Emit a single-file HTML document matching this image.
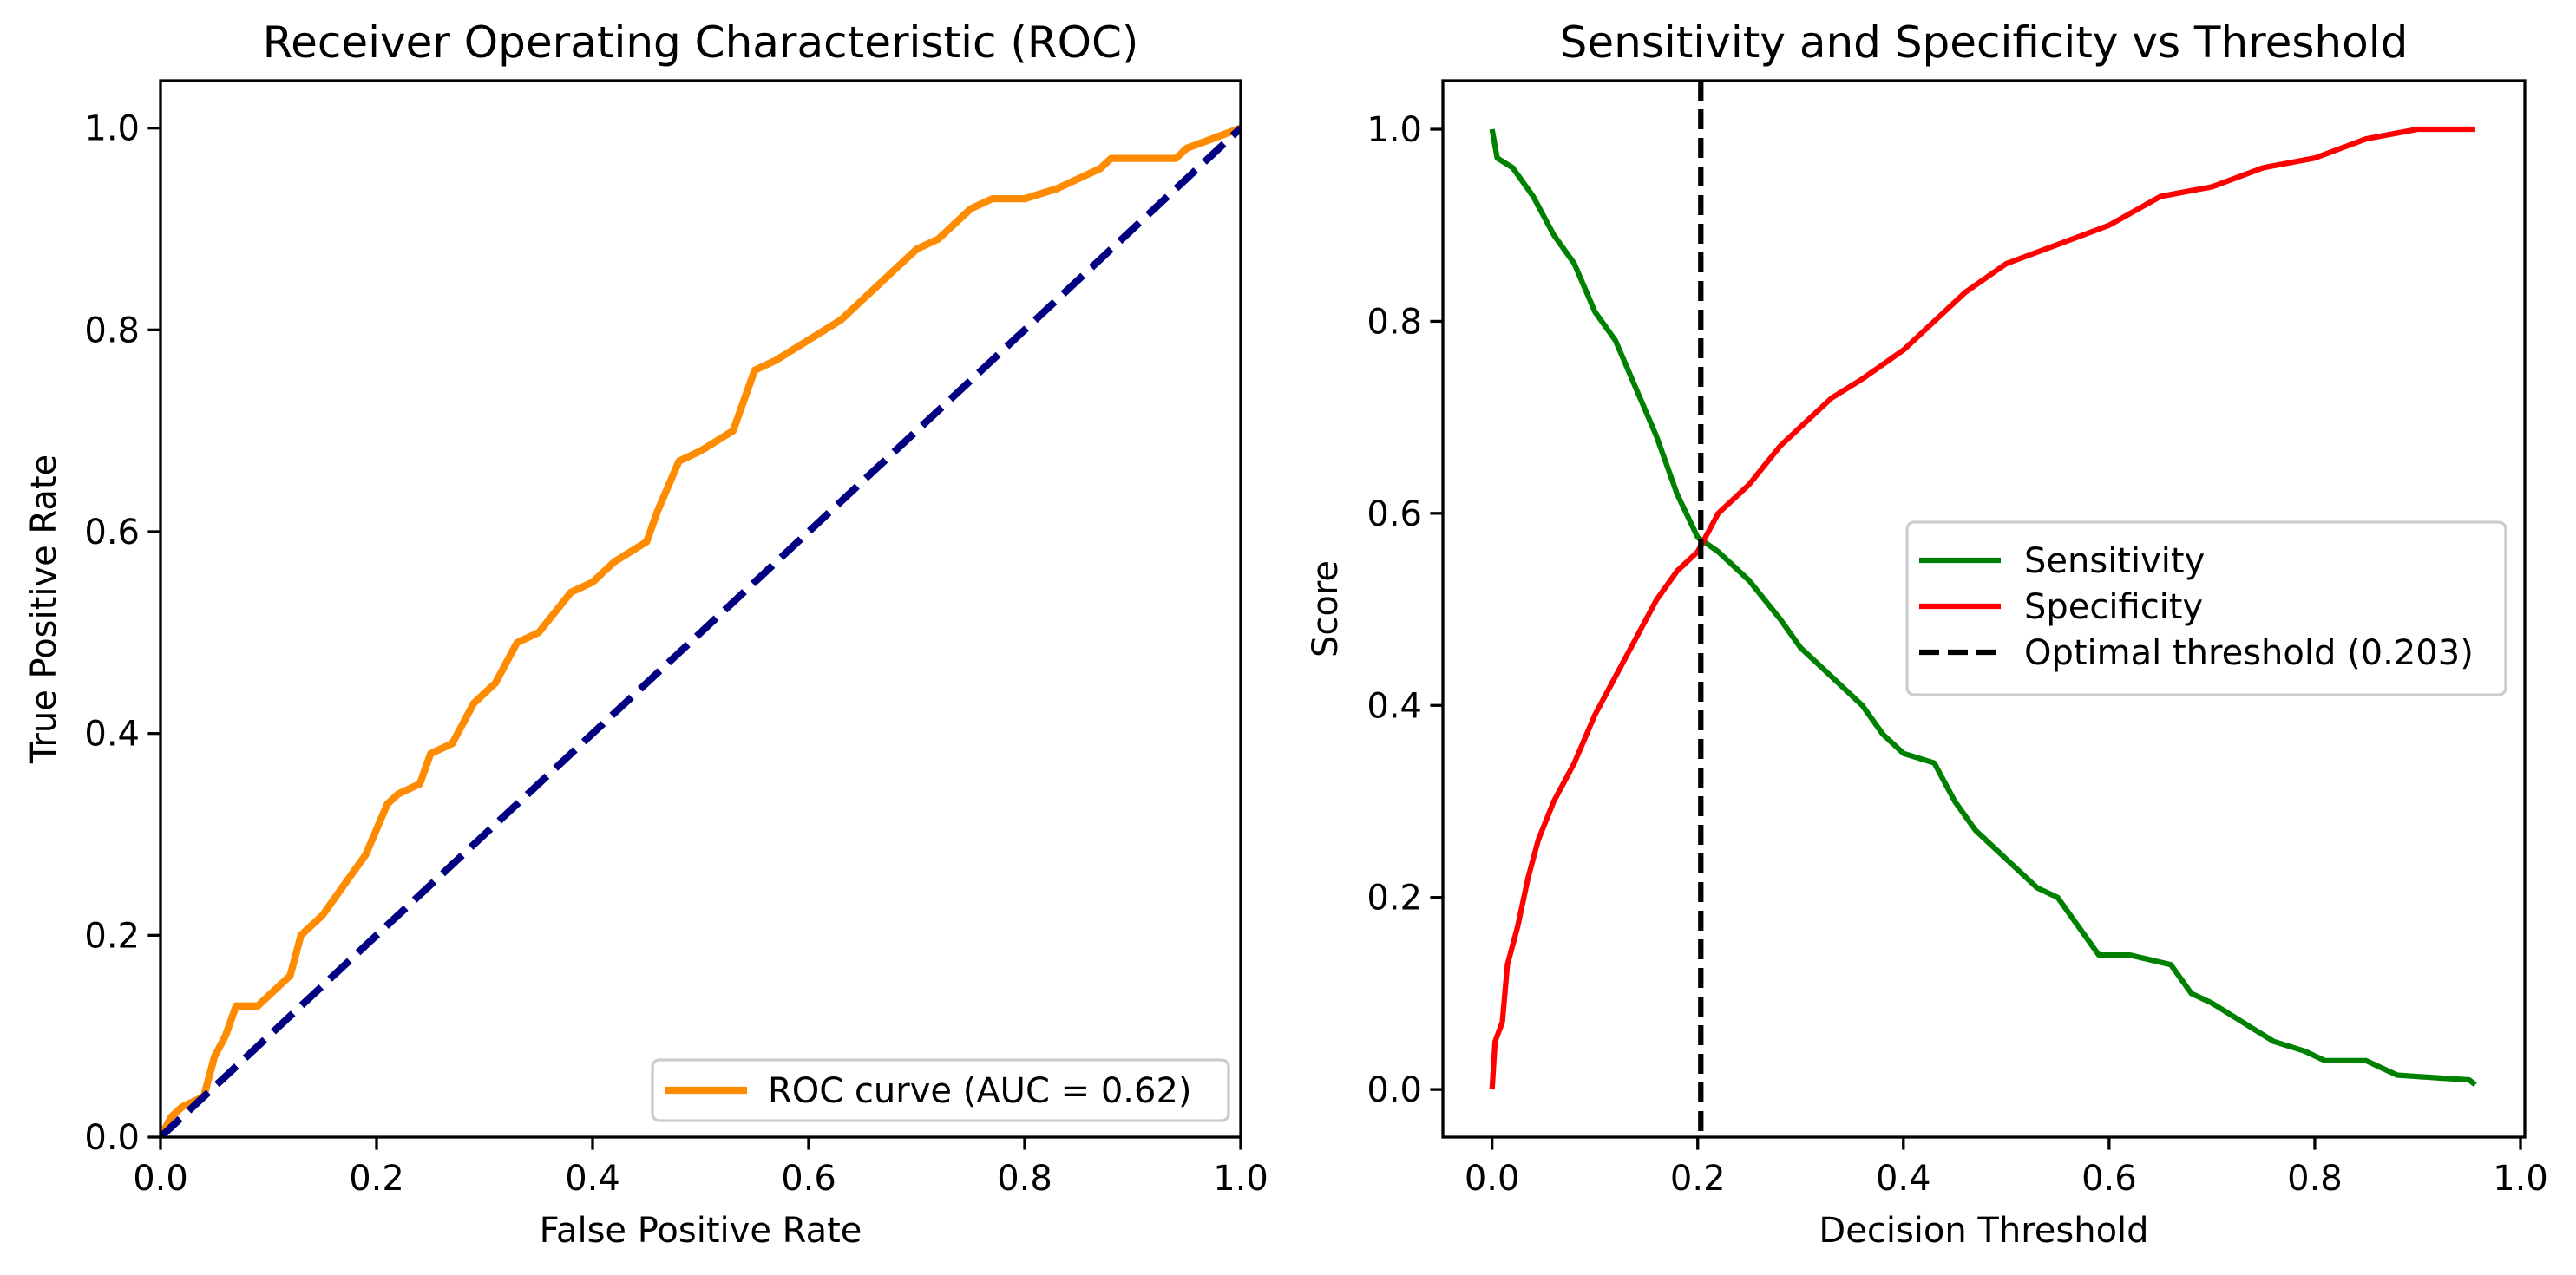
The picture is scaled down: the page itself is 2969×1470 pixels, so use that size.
<!DOCTYPE html>
<html><head><meta charset="utf-8"><style>
html,body{margin:0;padding:0;background:#fff}
svg{display:block;font-family:"DejaVu Sans","Liberation Sans",sans-serif}
</style></head><body>
<svg id="fig" xmlns="http://www.w3.org/2000/svg" width="2969" height="1470" viewBox="0 0 2969 1470"></svg>
<script>
const rocFpr=[0,0.01,0.02,0.04,0.05,0.06,0.07,0.09,0.1,0.12,0.13,0.15,0.17,0.19,0.21,0.22,0.24,0.25,0.27,0.29,0.31,0.33,0.35,0.38,0.4,0.42,0.45,0.46,0.48,0.5,0.53,0.55,0.57,0.6,0.63,0.65,0.68,0.7,0.72,0.75,0.77,0.8,0.83,0.87,0.88,0.94,0.95,1];
const rocTpr=[0,0.02,0.03,0.04,0.08,0.1,0.13,0.13,0.14,0.16,0.2,0.22,0.25,0.28,0.33,0.34,0.35,0.38,0.39,0.43,0.45,0.49,0.5,0.54,0.55,0.57,0.59,0.62,0.67,0.68,0.7,0.76,0.77,0.79,0.81,0.83,0.86,0.88,0.89,0.92,0.93,0.93,0.94,0.96,0.97,0.97,0.98,1];
const sensT=[0,0.005,0.02,0.04,0.06,0.08,0.1,0.12,0.14,0.16,0.18,0.2,0.22,0.25,0.28,0.3,0.33,0.36,0.38,0.4,0.43,0.45,0.47,0.5,0.53,0.55,0.57,0.59,0.62,0.66,0.68,0.7,0.73,0.76,0.79,0.81,0.85,0.88,0.92,0.95,0.956];
const sensV=[1,0.97,0.96,0.93,0.89,0.86,0.81,0.78,0.73,0.68,0.62,0.575,0.56,0.53,0.49,0.46,0.43,0.4,0.37,0.35,0.34,0.3,0.27,0.24,0.21,0.2,0.17,0.14,0.14,0.13,0.1,0.09,0.07,0.05,0.04,0.03,0.03,0.015,0.012,0.01,0.005];
const specT=[0,0.003,0.01,0.015,0.025,0.035,0.045,0.06,0.08,0.1,0.12,0.14,0.16,0.18,0.2,0.22,0.25,0.28,0.3,0.33,0.36,0.4,0.43,0.46,0.5,0.55,0.6,0.65,0.7,0.75,0.8,0.85,0.9,0.956];
const specV=[0,0.05,0.07,0.13,0.17,0.22,0.26,0.3,0.34,0.39,0.43,0.47,0.51,0.54,0.56,0.6,0.63,0.67,0.69,0.72,0.74,0.77,0.8,0.83,0.86,0.88,0.9,0.93,0.94,0.96,0.97,0.99,1,1];
const optThr=[0.203];
const ticks=[0,0.2,0.4,0.6,0.8,1.0];
const tickLabels=["0.0","0.2","0.4","0.6","0.8","1.0"];

const NS="http://www.w3.org/2000/svg";
const svg=document.getElementById('fig');
function el(tag,attrs,parent){const e=document.createElementNS(NS,tag);for(const k in attrs)e.setAttribute(k,attrs[k]);(parent||svg).appendChild(e);return e;}
function txt(s,attrs,parent){const e=el('text',attrs,parent);e.textContent=s;return e;}

const L={x0:185,x1:1430,y0:1311,y1:93,xmin:0,xmax:1,ymin:0,ymax:1.047};
const R={x0:1663,x1:2910,y0:1311,y1:93,xmin:-0.0478,xmax:1.0042,ymin:-0.0496,ymax:1.0506};
function sx(A,v){return A.x0+(v-A.xmin)/(A.xmax-A.xmin)*(A.x1-A.x0);}
function sy(A,v){return A.y0-(v-A.ymin)/(A.ymax-A.ymin)*(A.y0-A.y1);}
function path(A,xs,ys){return xs.map((x,i)=>(i?'L':'M')+sx(A,x).toFixed(1)+' '+sy(A,ys[i]).toFixed(1)).join(' ');}

function axes(A,name,title,xl,yl,ylx){
  const g=el('g',{});
  
  
  ticks.forEach((t,i)=>{
    const x=sx(A,t);
    el('line',{x1:x,x2:x,y1:A.y0,y2:A.y0+14.6,stroke:'#000','stroke-width':3.3},g);
    const lx=txt(tickLabels[i],{x:x,y:A.y0+61,'text-anchor':'middle','font-size':40},g);
    
    
    const y=sy(A,t);
    el('line',{x1:A.x0-14.6,x2:A.x0,y1:y,y2:y,stroke:'#000','stroke-width':3.3},g);
    const ly=txt(tickLabels[i],{x:A.x0-24,y:y+14,'text-anchor':'end','font-size':40},g);
    
    
  });
  const t=txt(title,{x:(A.x0+A.x1)/2,y:66,'text-anchor':'middle','font-size':50},g);
  
  
  const xlab=txt(xl,{x:(A.x0+A.x1)/2,y:1432,'text-anchor':'middle','font-size':40},g);
  
  
  const cy=(A.y0+A.y1)/2;
  const ylab=txt(yl,{x:ylx,y:cy,'text-anchor':'middle','font-size':40,transform:`rotate(-90 ${ylx} ${cy})`},g);
  
  
  return g;
}
function frame(A){
  const f=el('rect',{x:A.x0,y:A.y1,width:A.x1-A.x0,height:A.y0-A.y1,fill:'none',stroke:'#000','stroke-width':3.3});
  
  
}

axes(L,'roc-axes','Receiver Operating Characteristic (ROC)','False Positive Rate','True Positive Rate',64);
const clipL=el('clipPath',{id:'cl'});el('rect',{x:L.x0,y:L.y1,width:L.x1-L.x0,height:L.y0-L.y1},clipL);
const roc=el('path',{d:path(L,rocFpr,rocTpr),fill:'none',stroke:'#ff8c00','stroke-width':8.3,'stroke-linejoin':'round','clip-path':'url(#cl)'});


const diag=el('path',{d:path(L,[0,1],[0,1]),fill:'none',stroke:'#000080','stroke-width':8.3,'stroke-dasharray':'31 13.5','clip-path':'url(#cl)'});


frame(L);
const lg=el('g',{});


el('rect',{x:752,y:1222,width:664,height:70,rx:8,fill:'#fff','fill-opacity':0.8,stroke:'#ccc','stroke-width':3.3},lg);
el('line',{x1:767,x2:861,y1:1257,y2:1257,stroke:'#ff8c00','stroke-width':8.3},lg);
txt('ROC curve (AUC = 0.62)',{x:885,y:1271,'font-size':40},lg);

axes(R,'threshold-axes','Sensitivity and Specificity vs Threshold','Decision Threshold','Score',1541);
const sens=el('path',{d:path(R,sensT,sensV),fill:'none',stroke:'#008000','stroke-width':6.25,'stroke-linejoin':'round'});


const spec=el('path',{d:path(R,specT,specV),fill:'none',stroke:'#ff0000','stroke-width':6.25,'stroke-linejoin':'round'});


const vx=sx(R,optThr[0]);
const vl=el('line',{x1:vx,x2:vx,y1:R.y1,y2:R.y0,stroke:'#000','stroke-width':6.25,'stroke-dasharray':'23 10'});


frame(R);
const lg2=el('g',{});


el('rect',{x:2198,y:602,width:690,height:199,rx:8,fill:'#fff','fill-opacity':0.8,stroke:'#ccc','stroke-width':3.3},lg2);
const items=[['Sensitivity','#008000',''],['Specificity','#ff0000',''],['Optimal threshold (0.203)','#000','23 10']];
items.forEach((it,i)=>{
  const y=646+i*53;
  el('line',{x1:2212,x2:2306,y1:y,y2:y,stroke:it[1],'stroke-width':6.25,'stroke-dasharray':it[2]||'none'},lg2);
  const t=txt(it[0],{x:2333,y:y+14,'font-size':40},lg2);
  
  
});
</script>
</body></html>
